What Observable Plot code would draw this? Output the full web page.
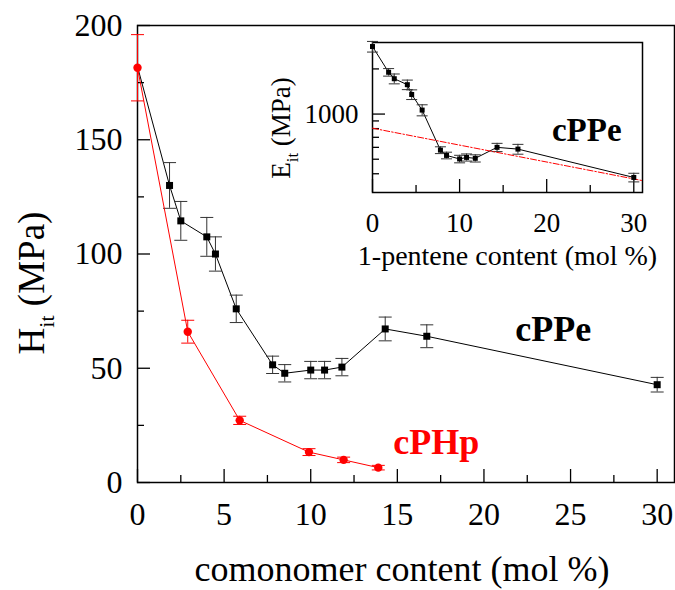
<!DOCTYPE html>
<html><head><meta charset="utf-8">
<script src="https://cdn.jsdelivr.net/npm/d3@7"></script>
<script src="https://cdn.jsdelivr.net/npm/@observablehq/plot@0.6"></script>
<style>
body{margin:0;background:#fff;}
#wrap{position:relative;width:675px;height:590px;}
#wrap svg{position:absolute;}
#wrap svg, #wrap svg text, #wrap svg tspan{font-family:"Liberation Serif","Times New Roman",serif !important;}
</style></head><body><div id="wrap"></div>
<script>
// ---- data ----
const comonomer = [0, 1.85, 2.5, 4.0, 4.5, 5.7, 7.8, 8.5, 10.0, 10.8, 11.8, 14.3, 16.7, 30.0];
const cPPeH = [182, 130, 114.5, 107.5, 100, 76, 51.5, 47.8, 49.2, 49.2, 50.5, 67.2, 64, 42.8];
const cPPeHErr = [0, 10, 8.5, 8.5, 7.5, 6, 3.8, 3.8, 3.8, 3.8, 3.8, 5.2, 5, 3.2];
const cPHpX = [0, 2.9, 5.9, 9.9, 11.9, 13.9];
const cPHpH = [181.5, 66, 27.2, 13.3, 9.9, 6.5];
const cPHpErr = [14.5, 5, 1.8, 1.5, 1.2, 1];
const cPPeE = [2820, 1900, 1720, 1570, 1350, 1063, 575, 530, 502, 514, 507, 600, 584, 378];
const cPPeEErr = [230, 110, 130, 115, 100, 90, 30, 27, 29, 28, 28, 38, 44, 25];
const fitX = [0, 31];
const fitE = [805, 360];
const seriesNames = ["cPPe", "cPHp"];
const labelX = [24, 17.25];
const labelY = [62, 12.3];
const insetLabelX = [24.6];
const insetLabelY = [661];
const hMajor = [0, 50, 100, 150, 200];
const hMinor = [25, 75, 125, 175];
const xMajor = [0, 5, 10, 15, 20, 25, 30];
const xMinor = [2.5, 7.5, 12.5, 17.5, 22.5, 27.5];
const inXMajor = [0, 10, 20, 30];
const inXMinor = [5, 15, 25];
const inYMajor = [1000];
const inYMinor = [400, 500, 600, 700, 800, 900, 2000];

const black = "#000000", red = "#ff0000", errGray = "#333333";
const ppe = comonomer.map((x, i) => ({x, h: cPPeH[i], he: cPPeHErr[i], e: cPPeE[i], ee: cPPeEErr[i]}));
const php = cPHpX.map((x, i) => ({x, h: cPHpH[i], he: cPHpErr[i]}));
const fit = fitX.map((x, i) => ({x, e: fitE[i]}));
const labels = seriesNames.map((t, i) => ({t, x: labelX[i], y: labelY[i], c: i === 0 ? black : red}));

const capSymbol = {draw(ctx, size) { const w = Math.sqrt(size); ctx.moveTo(-w / 2, 0); ctx.lineTo(w / 2, 0); }};
const capR = w => w / Math.sqrt(Math.PI);
const font = '"Liberation Serif", "Times New Roman", serif';

// ---- main plot ----
const main = Plot.plot({
  width: 675, height: 590,
  marginLeft: 137, marginRight: 1, marginTop: 25, marginBottom: 108,
  style: {fontFamily: font, fontSize: "32px", color: "#000", background: "transparent", overflow: "visible"},
  x: {domain: [0, 31]},
  y: {domain: [0, 200]},
  marks: [
    Plot.frame({strokeWidth: 1.5}),
    Plot.axisX({ticks: xMajor, tickSize: -13, fill: "none", label: null, strokeWidth: 1.3}),
    Plot.axisX({ticks: xMinor, tickSize: -7, fill: "none", label: null, strokeWidth: 1.3}),
    Plot.axisX({ticks: xMajor, tickSize: 0, tickPadding: 20, label: null, tickFormat: d => String(d), fontFamily: font}),
    Plot.axisY({ticks: hMajor, tickSize: -13, fill: "none", label: null, strokeWidth: 1.3}),
    Plot.axisY({ticks: hMinor, tickSize: -7, fill: "none", label: null, strokeWidth: 1.3}),
    Plot.axisY({ticks: hMajor, tickSize: 0, tickPadding: 15, label: null, tickFormat: d => String(d), fontFamily: font}),
    Plot.line(ppe, {x: "x", y: "h", stroke: black, strokeWidth: 1}),
    Plot.ruleX(ppe.filter(d => d.he > 0), {x: "x", y1: d => d.h - d.he, y2: d => d.h + d.he, stroke: errGray, strokeWidth: 1}),
    Plot.dot(ppe.filter(d => d.he > 0), {x: "x", y: d => d.h - d.he, symbol: capSymbol, r: capR(13), fill: "none", stroke: errGray, strokeWidth: 1}),
    Plot.dot(ppe.filter(d => d.he > 0), {x: "x", y: d => d.h + d.he, symbol: capSymbol, r: capR(13), fill: "none", stroke: errGray, strokeWidth: 1}),
    Plot.dot(ppe.filter(d => d.x > 0), {x: "x", y: "h", symbol: "square", r: capR(7), fill: black, stroke: "none"}),
    Plot.line(php, {x: "x", y: "h", stroke: red, strokeWidth: 1}),
    Plot.ruleX(php, {x: "x", y1: d => d.h - d.he, y2: d => d.h + d.he, stroke: red, strokeWidth: 1}),
    Plot.dot(php, {x: "x", y: d => d.h - d.he, symbol: capSymbol, r: capR(13), fill: "none", stroke: red, strokeWidth: 1}),
    Plot.dot(php, {x: "x", y: d => d.h + d.he, symbol: capSymbol, r: capR(13), fill: "none", stroke: red, strokeWidth: 1}),
    Plot.dot(php, {x: "x", y: "h", r: 4.2, fill: red, stroke: "none"}),
    Plot.text(labels, {x: "x", y: "y", text: "t", fill: "c", fontSize: 36, fontWeight: "bold", lineAnchor: "bottom", textAnchor: "middle", fontFamily: font}),
    Plot.text(["comonomer content (mol %)"], {frameAnchor: "bottom", dy: 98, dx: -4, lineAnchor: "bottom", fontSize: 36, fontFamily: font})
  ]
});
main.style.left = "0px"; main.style.top = "0px";
// y-axis title with subscript
d3.select(main).append("text")
  .attr("transform", "translate(44,283) rotate(-90)")
  .attr("text-anchor", "middle").style("font-family", font).attr("font-size", 37).attr("fill", "#000")
  .call(t => {
    t.append("tspan").text("H");
    t.append("tspan").attr("font-size", 22).attr("dy", 10).text("it");
    t.append("tspan").attr("dy", -10).text(" (MPa)");
  });

// ---- inset ----
const inset = Plot.plot({
  width: 425, height: 260,
  marginLeft: 122, marginRight: 33, marginTop: 12, marginBottom: 98,
  style: {fontFamily: font, fontSize: "27px", color: "#000", background: "transparent", overflow: "visible"},
  x: {domain: [0, 31]},
  y: {type: "log", domain: [300, 3000]},
  marks: [
    Plot.frame({strokeWidth: 1.5}),
    Plot.axisX({ticks: inXMajor, tickSize: -13, fill: "none", label: null, strokeWidth: 1.3}),
    Plot.axisX({ticks: inXMinor, tickSize: -7, fill: "none", label: null, strokeWidth: 1.3}),
    Plot.axisX({ticks: inXMajor, tickSize: 0, tickPadding: 20, label: null, tickFormat: d => String(d), fontFamily: font}),
    Plot.axisY({ticks: inYMajor, tickSize: -13, fill: "none", label: null, strokeWidth: 1.3}),
    Plot.axisY({ticks: inYMinor, tickSize: -7, fill: "none", label: null, strokeWidth: 1.3}),
    Plot.axisY({ticks: inYMajor, tickSize: 0, tickPadding: 14, label: null, tickFormat: d => String(d), fontFamily: font}),
    Plot.line(ppe, {x: "x", y: "e", stroke: black, strokeWidth: 1}),
    Plot.ruleX(ppe, {x: "x", y1: d => d.e - d.ee, y2: d => d.e + d.ee, stroke: errGray, strokeWidth: 1}),
    Plot.dot(ppe, {x: "x", y: d => d.e - d.ee, symbol: capSymbol, r: capR(11), fill: "none", stroke: errGray, strokeWidth: 1}),
    Plot.dot(ppe, {x: "x", y: d => d.e + d.ee, symbol: capSymbol, r: capR(11), fill: "none", stroke: errGray, strokeWidth: 1}),
    Plot.line(fit, {x: "x", y: "e", stroke: red, strokeWidth: 1, strokeDasharray: "6,2,1.5,2"}),
    Plot.dot(ppe, {x: "x", y: "e", symbol: "square", r: capR(5), fill: black, stroke: "none"}),
    Plot.text(insetLabelX.map((x, i) => ({x, y: insetLabelY[i]})), {x: "x", y: "y", text: () => "cPPe", fontSize: 33, fontWeight: "bold", lineAnchor: "bottom", textAnchor: "middle", fontFamily: font}),
    Plot.text(["1-pentene content (mol %)"], {frameAnchor: "bottom", dy: 72, lineAnchor: "bottom", fontSize: 28, fontFamily: font})
  ]
});
inset.style.left = "250px"; inset.style.top = "30px";
d3.select(inset).append("text")
  .attr("transform", "translate(40,98) rotate(-90)")
  .attr("text-anchor", "middle").style("font-family", font).attr("font-size", 27).attr("fill", "#000")
  .call(t => {
    t.append("tspan").text("E");
    t.append("tspan").attr("font-size", 17).attr("dy", 8).text("it");
    t.append("tspan").attr("dy", -8).text(" (MPa)");
  });

const wrap = document.getElementById("wrap");
wrap.appendChild(main);
wrap.appendChild(inset);
</script>
</body></html>
